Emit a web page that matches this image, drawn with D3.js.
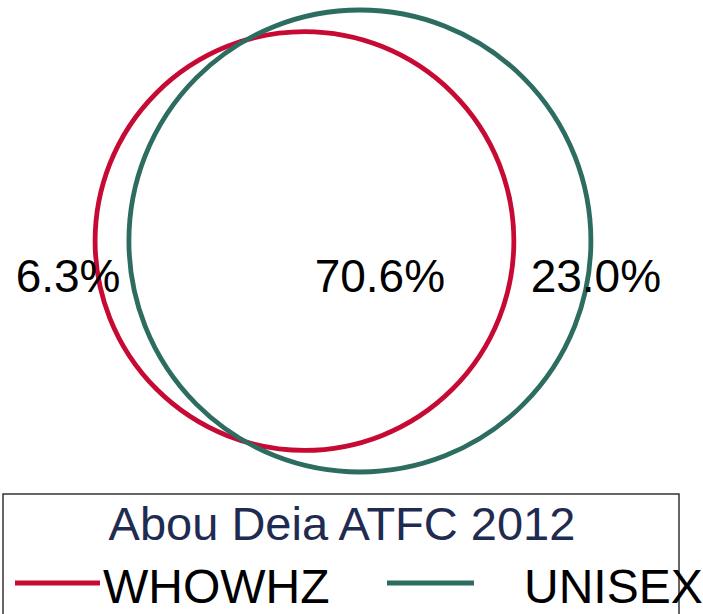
<!DOCTYPE html>
<html>
<head>
<meta charset="utf-8">
<script src="https://cdn.jsdelivr.net/npm/d3@7"></script>
<style>
  html, body { margin: 0; padding: 0; background: #fff; }
  svg { display: block; }
  text { font-family: "Liberation Sans", Arial, sans-serif; }
</style>
</head>
<body>
<svg id="chart" width="703" height="614"></svg>
<script>
// ---- data ----
const setNames = ["WHOWHZ", "UNISEX"];
const regionNames = ["WHOWHZ only", "Both", "UNISEX only"];
const regionPercents = [6.3, 70.6, 23.0];
const chartTitle = "Abou Deia ATFC 2012";
const setColors = ["#c70a33", "#2d6c60"];

// ---- derived set sizes ----
const setTotals = [regionPercents[0] + regionPercents[1], regionPercents[1] + regionPercents[2]];
const overlapPct = regionPercents[1];

const svg = d3.select("#chart");

// radius scale (area proportional)
const rScale = d3.scaleSqrt().domain([0, d3.max(setTotals)]).range([0, 231]);
const r1 = rScale(setTotals[0]);
const r2 = rScale(setTotals[1]);

function overlapArea(d) {
  if (d >= r1 + r2) return 0;
  if (d <= Math.abs(r1 - r2)) return Math.PI * Math.min(r1, r2) ** 2;
  const a1 = Math.acos((d * d + r1 * r1 - r2 * r2) / (2 * d * r1));
  const a2 = Math.acos((d * d + r2 * r2 - r1 * r1) / (2 * d * r2));
  const k = Math.sqrt((-d + r1 + r2) * (d + r1 - r2) * (d - r1 + r2) * (d + r1 + r2));
  return r1 * r1 * a1 + r2 * r2 * a2 - 0.5 * k;
}
const areaPerPct = Math.PI * r2 * r2 / setTotals[1];
const target = overlapPct * areaPerPct;
let lo = Math.abs(r1 - r2), hi = r1 + r2;
for (let i = 0; i < 100; i++) {
  const mid = (lo + hi) / 2;
  if (overlapArea(mid) > target) lo = mid; else hi = mid;
}
const dist = (lo + hi) / 2;

// layout: centre the pair
const cy = 241;
const leftEdge = 343 - (r1 + dist + r2) / 2;
const c1x = leftEdge + r1;
const c2x = c1x + dist;

const circles = [
  { name: setNames[0], cx: c1x, r: r1, color: setColors[0] },
  { name: setNames[1], cx: c2x, r: r2, color: setColors[1] }
];

svg.selectAll("circle.set")
  .data(circles)
  .join("circle")
  .attr("class", "set")
  .attr("cx", d => d.cx)
  .attr("cy", cy)
  .attr("r", d => d.r)
  .attr("fill", "none")
  .attr("stroke", d => d.color)
  .attr("stroke-width", 4.8);

// region labels
const labelX = [c1x - r1 - 27, c2x + 20, c2x + r2 + 5];
svg.selectAll("text.region")
  .data(regionPercents)
  .join("text")
  .attr("class", "region")
  .attr("x", (d, i) => labelX[i])
  .attr("y", 292)
  .attr("text-anchor", "middle")
  .attr("font-size", 46)
  .attr("fill", "#000")
  .text(d => d3.format(".1f")(d) + "%");

// legend box
svg.append("rect")
  .attr("x", 3)
  .attr("y", 494)
  .attr("width", 676)
  .attr("height", 140)
  .attr("fill", "none")
  .attr("stroke", "#333")
  .attr("stroke-width", 1.5);

svg.append("text")
  .attr("x", 342)
  .attr("y", 540)
  .attr("text-anchor", "middle")
  .attr("font-size", 47)
  .attr("fill", "#1f2b50")
  .text(chartTitle);

const legendItems = [
  { name: setNames[0], color: setColors[0], lx1: 15, lx2: 100, tx: 103 },
  { name: setNames[1], color: setColors[1], lx1: 387, lx2: 474, tx: 524 }
];
const lg = svg.selectAll("g.leg").data(legendItems).join("g").attr("class", "leg");
lg.append("line")
  .attr("x1", d => d.lx1).attr("x2", d => d.lx2)
  .attr("y1", 583).attr("y2", 583)
  .attr("stroke", d => d.color)
  .attr("stroke-width", 5);
lg.append("text")
  .attr("x", d => d.tx)
  .attr("y", 603)
  .attr("font-size", 48)
  .attr("fill", "#000")
  .text(d => d.name);
</script>
</body>
</html>
